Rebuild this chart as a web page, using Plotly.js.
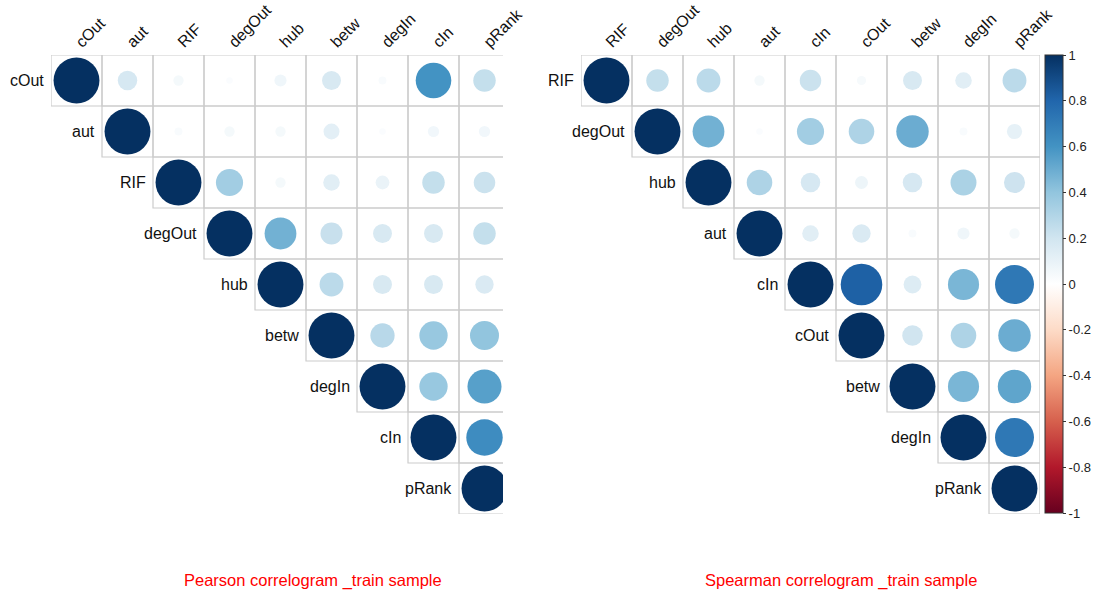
<!DOCTYPE html>
<html><head><meta charset="utf-8">
<script src="https://cdn.plot.ly/plotly-3.0.1.min.js"></script>
<style>html,body{margin:0;padding:0;background:#fff}#chart{width:1094px;height:590px}</style>
</head><body><div id="chart"></div>
<script>
const pearsonVars = ["cOut","aut","RIF","degOut","hub","betw","degIn","cIn","pRank"];
const spearmanVars = ["RIF","degOut","hub","aut","cIn","cOut","betw","degIn","pRank"];
// upper-triangle rows, each starting at the diagonal
const pearsonRows = [
  [1, 0.18, 0.05, 0.02, 0.07, 0.17, 0.03, 0.60, 0.24],
  [1, 0.03, 0.05, 0.05, 0.12, 0.02, 0.06, 0.06],
  [1, 0.35, 0.05, 0.13, 0.09, 0.24, 0.22],
  [1, 0.48, 0.23, 0.17, 0.17, 0.24],
  [1, 0.27, 0.17, 0.17, 0.16],
  [1, 0.28, 0.38, 0.40],
  [1, 0.38, 0.55],
  [1, 0.63],
  [1]
];
const spearmanRows = [
  [1, 0.24, 0.27, 0.05, 0.22, 0.04, 0.17, 0.13, 0.27],
  [1, 0.48, 0.02, 0.35, 0.31, 0.50, 0.03, 0.11],
  [1, 0.31, 0.18, 0.08, 0.18, 0.32, 0.21],
  [1, 0.13, 0.16, 0.03, 0.07, 0.05],
  [1, 0.82, 0.15, 0.46, 0.72],
  [1, 0.20, 0.31, 0.50],
  [1, 0.46, 0.53],
  [1, 0.72],
  [1]
];
const titles = ["Pearson correlogram _train sample", "Spearman correlogram _train sample"];
const cbTickVals = [1, 0.8, 0.6, 0.4, 0.2, 0, -0.2, -0.4, -0.6, -0.8, -1];
const cbTickText = ["1","0.8","0.6","0.4","0.2","0","-0.2","-0.4","-0.6","-0.8","-1"];
const palette = ["#67001F","#B2182B","#D6604D","#F4A582","#FDDBC7","#FFFFFF","#D1E5F0","#92C5DE","#4393C3","#2166AC","#053061"];

const W = 1094, H = 590, CELL = 51;
const colorscale = palette.map((c, i) => [i / (palette.length - 1), c]);
const FONT = "Liberation Sans, Arial, sans-serif";

function buildTrace(rows, xa, ya, showScale) {
  const x = [], y = [], v = [], s = [];
  rows.forEach((row, i) => row.forEach((val, k) => {
    x.push(i + k); y.push(i); v.push(val);
    s.push(0.9 * Math.sqrt(Math.abs(val)) * CELL);
  }));
  const t = {
    type: "scatter", mode: "markers", x, y, xaxis: xa, yaxis: ya,
    hoverinfo: "none", cliponaxis: true,
    marker: { size: s, sizemode: "diameter", color: v, colorscale, cmin: -1, cmax: 1,
      line: { width: 0 }, opacity: 1, showscale: showScale }
  };
  if (showScale) {
    t.marker.colorbar = {
      x: 1045 / W, xanchor: "left", xpad: 0, ypad: 0,
      y: 1 - 55 / H, yanchor: "top", len: 458 / H, lenmode: "fraction",
      thickness: 18, thicknessmode: "pixels",
      outlinewidth: 1, outlinecolor: "#333",
      ticks: "outside", ticklen: 3, tickcolor: "#333",
      tickvals: cbTickVals, ticktext: cbTickText,
      tickfont: { family: FONT, size: 13, color: "#222" }
    };
  }
  return t;
}

function cellShapes(rows, xref, yref) {
  const sh = [];
  rows.forEach((row, i) => row.forEach((val, k) => {
    const j = i + k;
    sh.push({ type: "rect", xref, yref, x0: j - 0.5, x1: j + 0.5, y0: i - 0.5, y1: i + 0.5,
      line: { color: "#cccccc", width: 1.2 }, fillcolor: "rgba(0,0,0,0)", layer: "below" });
  }));
  return sh;
}

function rowLabels(vars, xref, yref) {
  return vars.map((name, i) => ({
    text: name, x: i - 0.5, y: i, xref, yref, xanchor: "right", yanchor: "middle",
    showarrow: false, xshift: -5, font: { family: FONT, size: 16, color: "#111" }
  }));
}

const yDom = [1 - 514 / H, 1 - 55 / H];
function xAxis(domain, range, vars, anchor) {
  return { domain, range, anchor, side: "top", tickmode: "array",
    tickvals: vars.map((_, i) => i), ticktext: vars, tickangle: -45,
    tickfont: { family: FONT, size: 16, color: "#111" },
    showgrid: false, zeroline: false, showline: false, ticks: "", ticklabelstandoff: 0, fixedrange: true };
}
function yAxis(anchor) {
  return { domain: yDom, range: [8.5, -0.5], anchor, showgrid: false, zeroline: false,
    showline: false, showticklabels: false, ticks: "", fixedrange: true };
}

const data = [
  buildTrace(pearsonRows, "x", "y", false),
  buildTrace(spearmanRows, "x2", "y2", true)
];

const layout = {
  width: W, height: H, margin: { l: 0, r: 0, t: 0, b: 0 },
  paper_bgcolor: "#fff", plot_bgcolor: "rgba(0,0,0,0)", showlegend: false,
  font: { family: FONT },
  xaxis: xAxis([51 / W, 503 / W], [-0.5, 8.5 - 7 / CELL], pearsonVars, "y"),
  yaxis: yAxis("x"),
  xaxis2: xAxis([581 / W, 1040 / W], [-0.5, 8.5], spearmanVars, "y2"),
  yaxis2: yAxis("x2"),
  shapes: cellShapes(pearsonRows, "x", "y").concat(cellShapes(spearmanRows, "x2", "y2")),
  annotations: rowLabels(pearsonVars, "x", "y").concat(rowLabels(spearmanVars, "x2", "y2")).concat([
    { text: titles[0], xref: "paper", yref: "paper", x: 313 / W, y: 1 - 580 / H, xanchor: "center", yanchor: "middle",
      showarrow: false, font: { family: FONT, size: 16.5, color: "#ff0000" } },
    { text: titles[1], xref: "paper", yref: "paper", x: 841 / W, y: 1 - 580 / H, xanchor: "center", yanchor: "middle",
      showarrow: false, font: { family: FONT, size: 16.5, color: "#ff0000" } }
  ])
};

Plotly.newPlot("chart", data, layout, { displayModeBar: false, staticPlot: true });
</script></body></html>
